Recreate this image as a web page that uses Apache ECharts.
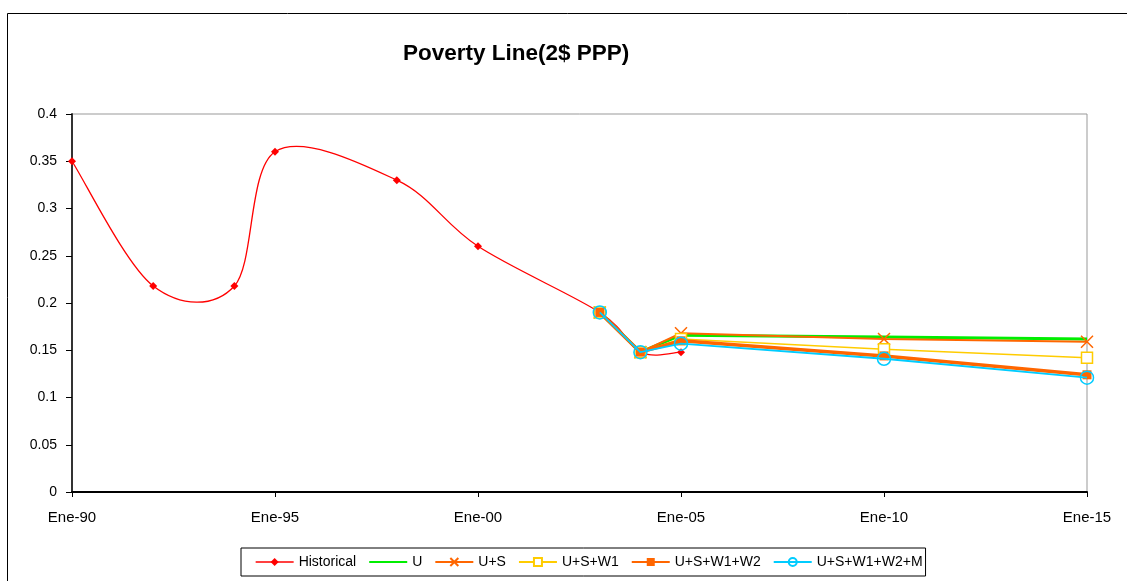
<!DOCTYPE html>
<html><head><meta charset="utf-8">
<script src="https://cdn.jsdelivr.net/npm/echarts@6/dist/echarts.min.js"></script>
<style>html,body{margin:0;padding:0;background:#fff}#c{width:1127px;height:581px}</style>
</head><body><div id="c"></div>
<script>
const histYears = [1990, 1992, 1994, 1995, 1998, 2000, 2003, 2004, 2005];
const histValues = [0.35, 0.218, 0.218, 0.36, 0.33, 0.26, 0.19, 0.148, 0.148];
const scenYears = [2003, 2004, 2005, 2010, 2015];
const uValues = [0.19, 0.148, 0.166, 0.164, 0.162];
const usValues = [0.19, 0.148, 0.168, 0.162, 0.159];
const usw1Values = [0.19, 0.148, 0.162, 0.151, 0.142];
const usw1w2Values = [0.19, 0.148, 0.160, 0.144, 0.124];
const usw1w2mValues = [0.19, 0.148, 0.157, 0.141, 0.121];
const xTickLabels = {1990:'Ene-90',1995:'Ene-95',2000:'Ene-00',2005:'Ene-05',2010:'Ene-10',2015:'Ene-15'};
const legendNames = ['Historical', 'U', 'U+S', 'U+S+W1', 'U+S+W1+W2', 'U+S+W1+W2+M'];

const pair = (xs, ys) => xs.map((x, i) => [x, ys[i]]);
const font = 'Liberation Sans, Arial, sans-serif';

// Excel-style smoothed curve (Catmull-Rom as cubic Bezier) through the historical points
function renderHistCurve(params, api) {
  const pts = histYears.map((y, i) => api.coord([y, histValues[i]]));
  const n = pts.length;
  const children = [];
  for (let i = 0; i < n - 1; i++) {
    const p0 = pts[Math.max(i - 1, 0)], p1 = pts[i], p2 = pts[i + 1], p3 = pts[Math.min(i + 2, n - 1)];
    children.push({
      type: 'bezierCurve',
      shape: {
        x1: p1[0], y1: p1[1], x2: p2[0], y2: p2[1],
        cpx1: p1[0] + (p2[0] - p0[0]) / 6, cpy1: p1[1] + (p2[1] - p0[1]) / 6,
        cpx2: p2[0] - (p3[0] - p1[0]) / 6, cpy2: p2[1] - (p3[1] - p1[1]) / 6
      },
      style: {stroke: '#FF0000', lineWidth: 1.3, fill: null}
    });
  }
  return {type: 'group', children};
}

const chart = echarts.init(document.getElementById('c'));
chart.setOption({
  animation: false,
  backgroundColor: '#fff',
  title: {
    text: 'Poverty Line(2$ PPP)',
    left: 398, top: 37,
    textStyle: {fontFamily: font, fontSize: 22.5, fontWeight: 'bold', color: '#000'}
  },
  graphic: [{
    type: 'rect', shape: {x: 7.5, y: 13.5, width: 1140, height: 600},
    style: {fill: 'none', stroke: '#000', lineWidth: 1}, silent: true, z: -1
  }],
  grid: {left: 72, right: 40, top: 114, bottom: 89, show: true, borderColor: '#999', borderWidth: 1, backgroundColor: 'transparent'},
  xAxis: {
    type: 'value', min: 1990, max: 2015, interval: 5,
    axisLine: {show: true, onZero: false, lineStyle: {color: '#000', width: 2}},
    axisTick: {show: true, length: 5, lineStyle: {color: '#000'}},
    splitLine: {show: false},
    axisLabel: {margin: 18, fontFamily: font, fontSize: 15, color: '#000', formatter: v => xTickLabels[v] || ''}
  },
  yAxis: {
    type: 'value', min: 0, max: 0.4, interval: 0.05,
    axisLine: {show: true, lineStyle: {color: '#333', width: 2}},
    axisTick: {show: true, length: 6, lineStyle: {color: '#000'}},
    splitLine: {show: false},
    axisLabel: {margin: 15, fontFamily: font, fontSize: 14, color: '#000', formatter: v => String(+v.toFixed(2))}
  },
  legend: {
    left: 241, top: 548,
    padding: [7, 3, 7, 14], itemGap: 12, itemWidth: 38, itemHeight: 10,
    borderColor: '#000', borderWidth: 1,
    textStyle: {fontFamily: font, fontSize: 14, color: '#000'},
    data: [
      {name: legendNames[0], lineStyle: {opacity: 1, color: '#FF0000', width: 1.3}},
      {name: legendNames[1], itemStyle: {opacity: 0}},
      legendNames[2], legendNames[3], legendNames[4], legendNames[5]
    ]
  },
  series: [
    {type: 'custom', name: 'HistoricalCurve', data: [0], renderItem: renderHistCurve, silent: true, z: 2},
    {name: 'Historical', type: 'line', data: pair(histYears, histValues),
     symbol: 'diamond', symbolSize: 8, lineStyle: {color: '#FF0000', width: 1.3, opacity: 0},
     itemStyle: {color: '#FF0000'}, z: 2},
    {name: 'U', type: 'line', data: pair(scenYears, uValues), symbol: 'none',
     lineStyle: {color: '#00EE00', width: 3}, itemStyle: {color: '#00EE00'}, z: 3},
    {name: 'U+S', type: 'line', data: pair(scenYears, usValues),
     symbol: 'path://M0,0L10,10M10,0L0,10', symbolSize: 12, showSymbol: true,
     lineStyle: {color: '#FF6600', width: 2},
     itemStyle: {color: 'none', borderColor: '#FF6600', borderWidth: 1.5}, z: 4},
    {name: 'U+S+W1', type: 'line', data: pair(scenYears, usw1Values),
     symbol: 'rect', symbolSize: 11,
     lineStyle: {color: '#FFCC00', width: 1.5},
     itemStyle: {color: '#fff', borderColor: '#FFCC00', borderWidth: 1.5}, z: 5},
    {name: 'U+S+W1+W2', type: 'line', data: pair(scenYears, usw1w2Values),
     symbol: 'rect', symbolSize: 9,
     lineStyle: {color: '#FF6600', width: 3.5},
     itemStyle: {color: '#FF6600'}, z: 6},
    {name: 'U+S+W1+W2+M', type: 'line', data: pair(scenYears, usw1w2mValues),
     symbol: 'circle', symbolSize: 13,
     lineStyle: {color: '#00CCFF', width: 1.8},
     itemStyle: {color: 'none', borderColor: '#00CCFF', borderWidth: 1.5}, z: 7}
  ]
});
</script></body></html>
